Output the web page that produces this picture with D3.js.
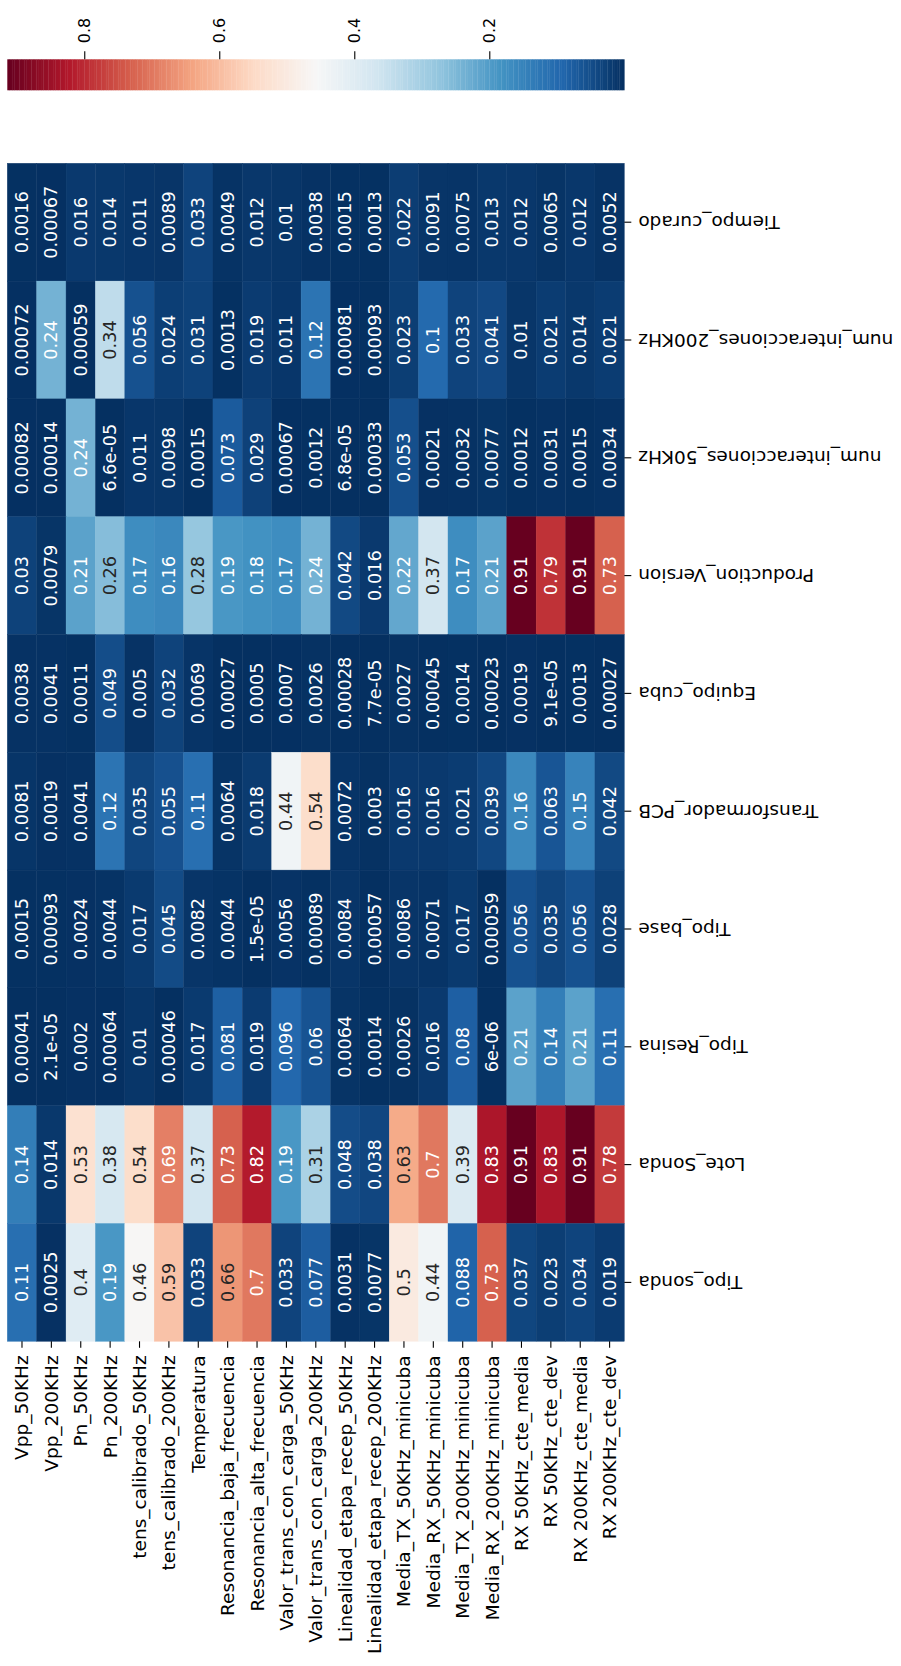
<!DOCTYPE html>
<html>
<head>
<meta charset="utf-8">
<script src="https://cdn.jsdelivr.net/npm/d3@7"></script>
<style>
  html, body { margin: 0; padding: 0; background: #ffffff; }
  svg { display: block; }
  text { font-family: "DejaVu Sans", sans-serif; }
</style>
</head>
<body>
<svg id="chart" width="901" height="1666"></svg>
<script>
// Measurements (columns, left to right)
const measures = [
  "Vpp_50KHz", "Vpp_200KHz", "Pn_50KHz", "Pn_200KHz",
  "tens_calibrado_50KHz", "tens_calibrado_200KHz", "Temperatura",
  "Resonancia_baja_frecuencia", "Resonancia_alta_frecuencia",
  "Valor_trans_con_carga_50KHz", "Valor_trans_con_carga_200KHz",
  "Linealidad_etapa_recep_50KHz", "Linealidad_etapa_recep_200KHz",
  "Media_TX_50KHz_minicuba", "Media_RX_50KHz_minicuba",
  "Media_TX_200KHz_minicuba", "Media_RX_200KHz_minicuba",
  "RX 50KHz_cte_media", "RX 50KHz_cte_dev",
  "RX 200KHz_cte_media", "RX 200KHz_cte_dev"
];

// Process factors (rows, top to bottom)
const factors = [
  "Tiempo_curado", "num_interacciones_200KHz", "num_interacciones_50KHz",
  "Production_Version", "Equipo_cuba", "Transformador_PCB",
  "Tipo_base", "Tipo_Resina", "Lote_Sonda", "Tipo_sonda"
];

// Association strength of each factor with every measurement
const tiempoCurado = [0.0016, 0.00067, 0.016, 0.014, 0.011, 0.0089, 0.033, 0.0049, 0.012, 0.01, 0.0038, 0.0015, 0.0013, 0.022, 0.0091, 0.0075, 0.013, 0.012, 0.0065, 0.012, 0.0052];
const numInter200 = [0.00072, 0.24, 0.00059, 0.34, 0.056, 0.024, 0.031, 0.0013, 0.019, 0.011, 0.12, 0.00081, 0.00093, 0.023, 0.1, 0.033, 0.041, 0.01, 0.021, 0.014, 0.021];
const numInter50 = [0.00082, 0.00014, 0.24, 6.6e-05, 0.011, 0.0098, 0.0015, 0.073, 0.029, 0.00067, 0.0012, 6.8e-05, 0.00033, 0.053, 0.0021, 0.0032, 0.0077, 0.0012, 0.0031, 0.0015, 0.0034];
const productionVersion = [0.03, 0.0079, 0.21, 0.26, 0.17, 0.16, 0.28, 0.19, 0.18, 0.17, 0.24, 0.042, 0.016, 0.22, 0.37, 0.17, 0.21, 0.914, 0.79, 0.914, 0.73];
const equipoCuba = [0.0038, 0.0041, 0.0011, 0.049, 0.005, 0.032, 0.0069, 0.00027, 0.0005, 0.0007, 0.0026, 0.00028, 7.7e-05, 0.0027, 0.00045, 0.0014, 0.00023, 0.0019, 9.1e-05, 0.0013, 0.00027];
const transformadorPCB = [0.0081, 0.0019, 0.0041, 0.12, 0.035, 0.055, 0.11, 0.0064, 0.018, 0.44, 0.54, 0.0072, 0.003, 0.016, 0.016, 0.021, 0.039, 0.16, 0.063, 0.15, 0.042];
const tipoBase = [0.0015, 0.00093, 0.0024, 0.0044, 0.017, 0.045, 0.0082, 0.0044, 1.5e-05, 0.0056, 0.00089, 0.0084, 0.00057, 0.0086, 0.0071, 0.017, 0.00059, 0.056, 0.035, 0.056, 0.028];
const tipoResina = [0.00041, 2.1e-05, 0.002, 0.00064, 0.01, 0.00046, 0.017, 0.081, 0.019, 0.096, 0.06, 0.0064, 0.0014, 0.0026, 0.016, 0.08, 6e-06, 0.21, 0.14, 0.21, 0.11];
const loteSonda = [0.14, 0.014, 0.53, 0.38, 0.54, 0.69, 0.37, 0.73, 0.82, 0.19, 0.31, 0.048, 0.038, 0.63, 0.7, 0.39, 0.83, 0.914, 0.83, 0.914, 0.78];
const tipoSonda = [0.11, 0.0025, 0.4, 0.19, 0.46, 0.59, 0.033, 0.66, 0.7, 0.033, 0.077, 0.0031, 0.0077, 0.5, 0.44, 0.088, 0.73, 0.037, 0.023, 0.034, 0.019];

const rowValues = [tiempoCurado, numInter200, numInter50, productionVersion, equipoCuba,
                   transformadorPCB, tipoBase, tipoResina, loteSonda, tipoSonda];

// Colour bar tick values
const cbarTicks = [0.2, 0.4, 0.6, 0.8];

// RdBu palette (reversed: low = blue, high = red)
const rdBu = ["#67001f", "#b2182b", "#d6604d", "#f4a582", "#fddbc7", "#f7f7f7",
              "#d1e5f0", "#92c5de", "#4393c3", "#2166ac", "#053061"];

// ---- layout ----
const gridLeft = 7.3, gridRight = 624.3, gridTop = 163.3, gridBottom = 1341.3;
const cbTop = 59.3, cbBottom = 90.3;
const labelSize = 18.5, annotSize = 17.7, cbLabelSize = 16;

const cells = [];
factors.forEach((f, i) => {
  rowValues[i].forEach((v, j) => cells.push({ factor: f, measure: measures[j], value: v }));
});

const vmin = d3.min(cells, d => d.value);
const vmax = d3.max(cells, d => d.value);

const color = d3.scaleLinear()
  .domain(d3.range(rdBu.length).map(i => vmin + i * (vmax - vmin) / (rdBu.length - 1)))
  .range(rdBu.slice().reverse())
  .interpolate(d3.interpolateRgb)
  .clamp(true);

const x = d3.scaleBand().domain(measures).range([gridLeft, gridRight]);
const y = d3.scaleBand().domain(factors).range([gridTop, gridBottom]);

// Python-style "%.2g" formatting
function fmt2g(v) {
  if (v === 0) return "0";
  const e = parseInt(v.toExponential(1).split("e")[1], 10);
  if (e < -4 || e >= 2) {
    let [m, ex] = v.toExponential(1).split("e");
    if (m.indexOf(".") >= 0) m = m.replace(/0+$/, "").replace(/\.$/, "");
    const sign = ex[0] === "-" ? "-" : "+";
    let digits = ex.replace(/^[+-]/, "");
    if (digits.length < 2) digits = "0" + digits;
    return m + "e" + sign + digits;
  }
  let s = v.toPrecision(2);
  if (s.indexOf(".") >= 0) s = s.replace(/0+$/, "").replace(/\.$/, "");
  return s;
}

// Text colour chosen from the luminance of the cell colour
function textColor(c) {
  const rgb = d3.rgb(c);
  const lin = [rgb.r, rgb.g, rgb.b].map(u => {
    u /= 255;
    return u <= 0.03928 ? u / 12.92 : Math.pow((u + 0.055) / 1.055, 2.4);
  });
  const lum = 0.2126 * lin[0] + 0.7152 * lin[1] + 0.0722 * lin[2];
  return lum > 0.408 ? "#262626" : "#ffffff";
}

const svg = d3.select("#chart");

// ---- heatmap cells ----
const g = svg.append("g");
g.selectAll("rect.cell")
  .data(cells)
  .join("rect")
  .attr("class", "cell")
  .attr("x", d => x(d.measure))
  .attr("y", d => y(d.factor))
  .attr("width", x.bandwidth())
  .attr("height", y.bandwidth())
  .attr("fill", d => color(d.value))
  .attr("stroke", d => color(d.value))
  .attr("stroke-width", 0.4);

g.selectAll("text.annot")
  .data(cells)
  .join("text")
  .attr("class", "annot")
  .attr("transform", d =>
    `translate(${x(d.measure) + x.bandwidth() / 2},${y(d.factor) + y.bandwidth() / 2}) rotate(-90)`)
  .attr("text-anchor", "middle")
  .attr("dominant-baseline", "central")
  .attr("font-size", annotSize)
  .attr("fill", d => textColor(color(d.value)))
  .text(d => fmt2g(d.value));

// ---- measurement axis (below the grid) ----
const xAxis = svg.append("g")
  .attr("transform", `translate(0,${gridBottom})`)
  .call(d3.axisBottom(x).tickSize(6.5).tickPadding(0));
xAxis.select(".domain").remove();
xAxis.selectAll(".tick line").attr("stroke", "#000").attr("stroke-width", 1.1);
xAxis.selectAll(".tick text")
  .attr("transform", "rotate(-90)")
  .attr("x", -14)
  .attr("y", 0)
  .attr("dy", null)
  .attr("text-anchor", "end")
  .attr("dominant-baseline", "central")
  .attr("font-size", labelSize)
  .attr("font-family", "DejaVu Sans")
  .attr("fill", "#000");

// ---- factor axis (right of the grid) ----
const yAxis = svg.append("g")
  .attr("transform", `translate(${gridRight},0)`)
  .call(d3.axisRight(y).tickSize(7).tickPadding(0));
yAxis.select(".domain").remove();
yAxis.selectAll(".tick line").attr("stroke", "#000").attr("stroke-width", 1.1);
yAxis.selectAll(".tick text")
  .attr("transform", "rotate(180)")
  .attr("x", -14)
  .attr("y", 0)
  .attr("dy", null)
  .attr("text-anchor", "end")
  .attr("dominant-baseline", "central")
  .attr("font-size", labelSize)
  .attr("font-family", "DejaVu Sans")
  .attr("fill", "#000");

// ---- colour bar ----
const cb = d3.scaleLinear().domain([vmax, vmin]).range([gridLeft, gridRight]);
const nSteps = 256;
const stepW = (vmax - vmin) / nSteps;
const steps = d3.range(nSteps).map(i => vmin + (i + 0.5) * stepW);
svg.append("g")
  .selectAll("rect")
  .data(steps)
  .join("rect")
  .attr("x", d => cb(d + stepW / 2))
  .attr("y", cbTop)
  .attr("width", d => cb(d - stepW / 2) - cb(d + stepW / 2) + 0.3)
  .attr("height", cbBottom - cbTop)
  .attr("fill", d => color(d));

const cbAxis = svg.append("g")
  .attr("transform", `translate(0,${cbTop})`)
  .call(d3.axisTop(cb).tickValues(cbarTicks).tickFormat(d3.format(".1f")).tickSize(8).tickPadding(0));
cbAxis.select(".domain").remove();
cbAxis.selectAll(".tick line").attr("stroke", "#000").attr("stroke-width", 1.1);
cbAxis.selectAll(".tick text")
  .attr("transform", "rotate(-90)")
  .attr("x", 16)
  .attr("y", 0)
  .attr("dy", null)
  .attr("text-anchor", "start")
  .attr("dominant-baseline", "central")
  .attr("font-size", cbLabelSize)
  .attr("font-family", "DejaVu Sans")
  .attr("fill", "#000");
</script>
</body>
</html>
